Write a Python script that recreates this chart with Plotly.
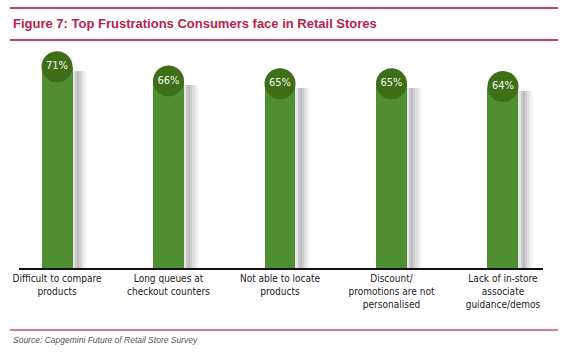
import plotly.graph_objects as go

categories = ["Difficult to compare<br>products", "Long queues at<br>checkout counters",
              "Not able to locate<br>products", "Discount/<br>promotions are not<br>personalised",
              "Lack of in-store<br>associate<br>guidance/demos"]
values = [71, 66, 65, 65, 64]
labels = ["71%", "66%", "65%", "65%", "64%"]

xs = list(range(len(values)))
W, H = 581, 354
L, R, T, B = 19, 38, 50, 86
pw = W - L - R
ph = H - T - B

NARROW = "DejaVu Sans Condensed, Liberation Sans Narrow, Arial Narrow, Liberation Sans"

fig = go.Figure()

# shadow strips (gradient simulation)
bar_w = 0.278
strip_w = 0.019
shades = ["#e6e6e6", "#c9c9c9", "#bcbcbc", "#cdcdcd", "#dedede", "#ececec", "#f7f7f7"]
for k, c in enumerate(shades):
    fig.add_trace(go.Bar(x=xs, y=[v - 1.5 for v in values], base=0,
                         width=strip_w, offset=bar_w / 2 + k * strip_w,
                         marker=dict(color=c, line=dict(width=0)),
                         hoverinfo="skip", showlegend=False))

fig.add_trace(go.Bar(x=xs, y=values, width=bar_w,
                     marker=dict(color="#4f8f32", line=dict(width=0)),
                     showlegend=False))

fig.add_trace(go.Scatter(x=xs, y=values, mode="markers+text", text=labels,
                         textposition="middle center",
                         textfont=dict(color="#f4fbe8", size=11, family=NARROW),
                         marker=dict(size=31, color="#3f6e18", line=dict(width=0)),
                         showlegend=False, cliponaxis=False))

# decoration lines
def px2paper_x(px):
    return (px - L) / pw

def px2paper_y(py):
    return (H - B - py) / ph

line_col = "#c4466c"
for py, col in [(8, line_col), (40, line_col), (330, "#dc7a95")]:
    fig.add_shape(type="line", xref="paper", yref="paper",
                  x0=px2paper_x(10), x1=px2paper_x(558),
                  y0=px2paper_y(py), y1=px2paper_y(py),
                  line=dict(color=col, width=2))

fig.add_annotation(text="<i>Source: Capgemini Future of Retail Store Survey</i>",
                   xref="paper", yref="paper", x=px2paper_x(11), y=px2paper_y(340),
                   xanchor="left", yanchor="middle", showarrow=False,
                   font=dict(size=8.5, color="#555555", family="Liberation Sans"))

fig.update_layout(
    width=W, height=H,
    margin=dict(l=L, r=R, t=T, b=B),
    paper_bgcolor="white", plot_bgcolor="white",
    barmode="overlay", bargap=0,
    title=dict(text="<b>Figure 7: Top Frustrations Consumers face in Retail Stores</b>",
               x=13 / W, xanchor="left", y=1 - 23 / H, yanchor="middle", yref="container",
               font=dict(size=13, color="#b8224c", family="Liberation Sans, Arial")),
    xaxis=dict(range=[-0.341, 4.359], tickmode="array", tickvals=xs, ticktext=categories,
               showline=True, linecolor="#111111", linewidth=1.5, showgrid=False,
               zeroline=False, ticks="", fixedrange=True,
               tickfont=dict(size=10, color="#1a1a1a", family=NARROW)),
    yaxis=dict(range=[0, ph / 2.835], visible=False, showgrid=False, zeroline=False),
    font=dict(family="Liberation Sans"),
)

fig.write_html("out.html")
